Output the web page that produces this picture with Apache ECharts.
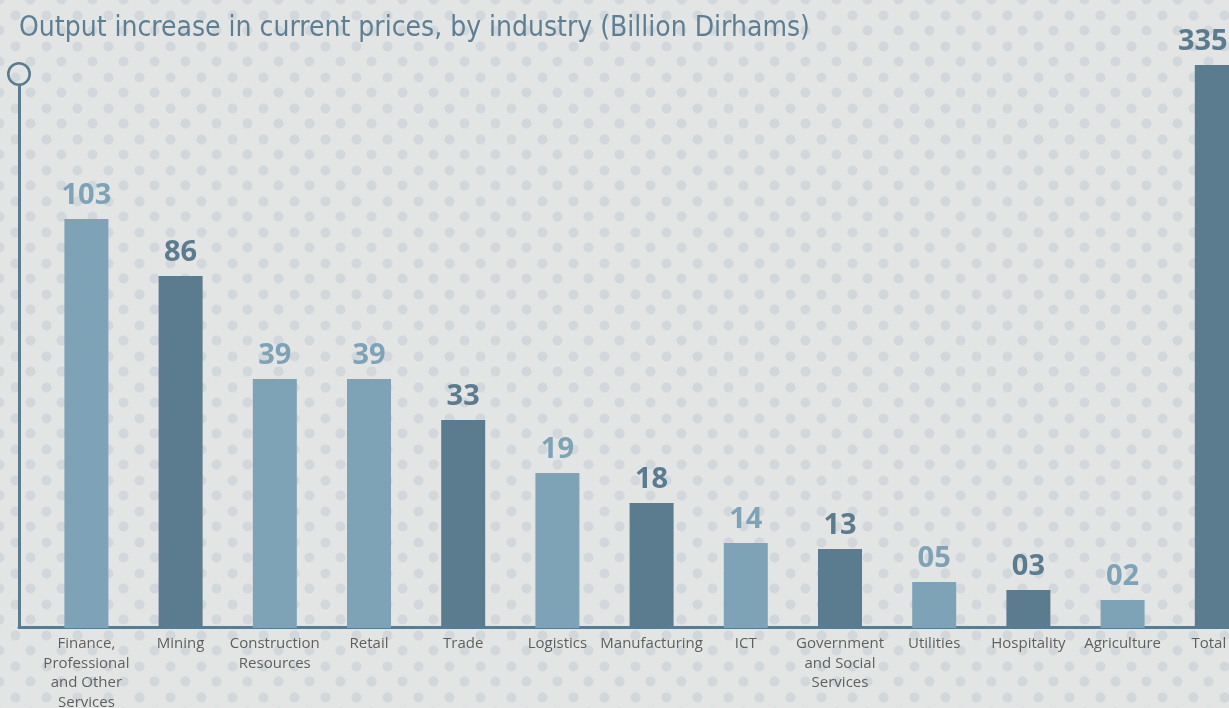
<!DOCTYPE html>
<html>
<head>
<meta charset="utf-8">
<title>Output increase by industry</title>
<script src="https://cdn.jsdelivr.net/npm/echarts@6/dist/echarts.min.js"></script>
<style>
  html, body {
    margin: 0;
    padding: 0;
    width: 1229px;
    height: 708px;
    overflow: hidden;
    background-color: #e3e5e5;
    background-image:
      radial-gradient(circle, #d1d7db 0, #d1d7db 4.5px, rgba(209,215,219,0) 5.5px),
      radial-gradient(circle, #d1d7db 0, #d1d7db 4.5px, rgba(209,215,219,0) 5.5px);
    background-size: 31px 31px, 31px 31px;
    background-position: 0 0, 15px 15px;
  }
  #chart { width: 1229px; height: 708px; }
</style>
</head>
<body>
<div id="chart"></div>
<script>
// industries, left to right
var categories = [
  'Finance,\nProfessional\nand Other\nServices',
  'Mining',
  'Construction\nResources',
  'Retail',
  'Trade',
  'Logistics',
  'Manufacturing',
  'ICT',
  'Government\nand Social\nServices',
  'Utilities',
  'Hospitality',
  'Agriculture',
  'Total'
]
// output increase, billion dirhams (printed above the bars)
var values = [103, 86, 39, 39, 33, 19, 18, 14, 13, 5, 3, 2, 335]
// the infographic bars are not drawn to scale, heights as read off the picture
var barHeights = [409, 352, 249, 249, 208, 155, 125, 85, 79, 46, 38, 28, 563]

var darkBars = ['Mining', 'Trade', 'Manufacturing', 'Government\nand Social\nServices', 'Hospitality', 'Total']
var LIGHT = '#7fa3b6'
var DARK = '#5b7b8f'

function toneOf(i) {
  return darkBars.indexOf(categories[i]) >= 0 ? DARK : LIGHT
}

// the total bar sits against the right edge, pull its texts back inside
function isTotal(i) {
  return categories[i] === 'Total'
}

var ring = 'path://M12,0 A12,12 0 1,1 11.99,0 Z M12,2.6 A9.4,9.4 0 1,0 12.01,2.6 Z'

var chart = echarts.init(document.getElementById('chart'))
chart.setOption({
  backgroundColor: 'transparent',
  animation: false,
  title: {
    text: 'Output increase in current prices, by industry (Billion Dirhams)',
    left: 14,
    top: 10,
    textStyle: {
      color: '#5e7f93',
      fontFamily: '"DejaVu Sans Condensed", sans-serif',
      fontWeight: 'normal',
      fontSize: 28
    }
  },
  grid: [
    { left: 19, right: 0, top: 85, bottom: 81, outerBoundsMode: 'none' },
    { left: 39.3, width: 1224.6, top: 28, bottom: 80, outerBoundsMode: 'none' }
  ],
  xAxis: [
    {
      type: 'value', gridIndex: 0, min: 0, max: 1,
      axisLine: { show: true, lineStyle: { color: DARK, width: 3 } },
      axisTick: { show: false }, axisLabel: { show: false }, splitLine: { show: false }
    },
    {
      type: 'category', gridIndex: 1,
      data: categories.map(function (c, i) {
        return isTotal(i) ? { value: c, textStyle: { padding: [0, 16, 0, 0] } } : c
      }),
      axisLine: { show: false }, axisTick: { show: false },
      axisLabel: {
        interval: 0,
        margin: 6,
        color: '#5f5f5f',
        fontFamily: '"Open Sans", sans-serif',
        fontSize: 15,
        lineHeight: 19.5
      }
    }
  ],
  yAxis: [
    {
      type: 'value', gridIndex: 0, min: 0, max: 1,
      axisLine: {
        show: true,
        symbol: ['none', ring],
        symbolSize: [24, 24],
        symbolOffset: [0, 11],
        lineStyle: { color: DARK, width: 3 }
      },
      axisTick: { show: false }, axisLabel: { show: false }, splitLine: { show: false }
    },
    {
      type: 'value', gridIndex: 1, min: 0, max: 600,
      show: false, splitLine: { show: false }
    }
  ],
  series: [
    {
      type: 'bar',
      xAxisIndex: 1,
      yAxisIndex: 1,
      barWidth: 44,
      z: 5,
      data: barHeights.map(function (h, i) {
        return {
          value: h,
          itemStyle: { color: toneOf(i) },
          label: { color: toneOf(i), offset: isTotal(i) ? [-14, 0] : [0, 0] }
        }
      }),
      label: {
        show: true,
        position: 'top',
        distance: 9,
        fontFamily: '"Open Sans", sans-serif',
        fontWeight: 'bold',
        fontSize: 29,
        formatter: function (p) {
          return String(values[p.dataIndex]).padStart(2, '0')
        }
      }
    }
  ]
})
</script>
</body>
</html>
